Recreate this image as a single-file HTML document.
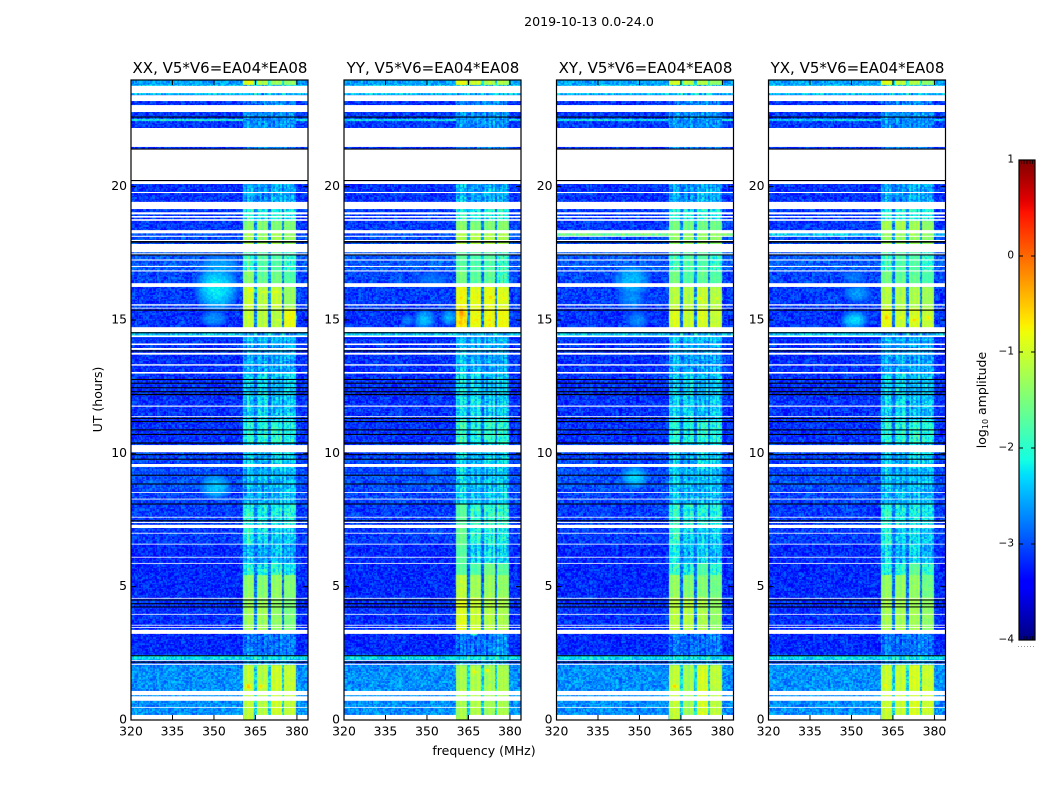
<!DOCTYPE html>
<html lang="en">
<head>
<meta charset="utf-8">
<title>2019-10-13 0.0-24.0</title>
<style>
html,body{margin:0;padding:0;background:#fff;width:1050px;height:800px;overflow:hidden}
#chart-root{position:relative;width:1050px;height:800px;font-family:"DejaVu Sans","Liberation Sans",sans-serif}
canvas{position:absolute;display:block}
svg{position:absolute;left:0;top:0}
text{fill:#000;font-family:"DejaVu Sans","Liberation Sans",sans-serif}
</style>
</head>
<body>
<div id="chart-root">
<canvas id="c0"></canvas>
<canvas id="c1"></canvas>
<canvas id="c2"></canvas>
<canvas id="c3"></canvas>
<svg id="overlay" width="1050" height="800" xmlns="http://www.w3.org/2000/svg">
<defs><linearGradient id="jetGrad" x1="0" y1="1" x2="0" y2="0"></linearGradient></defs>
</svg>
</div>
<script>
// ---- tick labels and titles ----
const panelTitles = ["XX, V5*V6=EA04*EA08","YY, V5*V6=EA04*EA08","XY, V5*V6=EA04*EA08","YX, V5*V6=EA04*EA08"];
const freqTicks = [320,335,350,365,380];
const hourTicks = [0,5,10,15,20];
const colorTicks = [-4,-3,-2,-1,0,1];
// ---- frequency bands (MHz) ----
const bandEdges = [[360.5,364.6],[365.6,369.6],[370.6,374.6],[375.6,379.6]];
// ---- time segments (UT hours, lower edges; last value is the top) ----
const segmentEdges = [0,2.06,2.25,2.44,3.23,4.58,5.44,5.89,6.56,7.2,8.1,8.63,9.38,10.05,10.39,11.25,12.19,13.05,14.06,14.22,14.36,14.55,15.45,16.24,16.84,17.55,18.26,18.71,19.16,20.1,22.2,22.8,23.2,23.44,23.78,24];
// background log10 amplitude for each segment
const backgroundLevels = [-2.68,-3.0,-2.3,-3.2,-3.15,-3.2,-3.2,-3.2,-3.1,-3.1,-3.05,-3.0,-3.05,-3.1,-3.15,-3.15,-3.15,-3.15,-3.15,-3.1,-2.4,-3.15,-3.1,-3.05,-2.95,-3.0,-3.1,-3.1,-3.15,-3.15,-3.1,-3.15,-3.15,-2.4,-2.6];
// band log10 amplitude per polarisation and segment
const bandsXX = [[-1.15,-1.2,-1.05,-1.1],[-2.6,-2.6,-2.6,-2.6],[-2.2,-2.2,-2.2,-2.2],[-2.75,-2.8,-2.8,-2.7],[-1.35,-1.35,-1.4,-1.55],[-1.45,-1.5,-1.4,-1.5],[-2.0,-2.1,-1.9,-2.1],[-2.4,-2.5,-2.3,-2.5],[-2.0,-2.2,-2.3,-2.3],[-2.0,-2.1,-2.1,-2.0],[-2.5,-2.5,-2.4,-2.3],[-2.4,-2.4,-2.4,-2.4],[-2.3,-2.5,-2.2,-2.3],[-2.3,-2.3,-2.3,-2.3],[-2.0,-2.0,-1.9,-2.0],[-2.3,-2.2,-2.4,-2.3],[-2.3,-2.2,-2.4,-2.2],[-2.5,-2.5,-2.5,-2.5],[-2.5,-2.5,-2.5,-2.5],[-2.3,-2.3,-2.3,-2.3],[-2.6,-2.6,-2.6,-2.6],[-1.15,-1.2,-1.2,-0.9],[-1.1,-1.2,-1.1,-1.35],[-1.45,-1.7,-1.6,-1.8],[-1.85,-1.8,-1.8,-1.9],[-1.3,-1.4,-1.3,-1.4],[-1.5,-1.5,-1.5,-1.5],[-2.0,-2.1,-2.0,-2.1],[-2.5,-2.6,-2.4,-2.5],[-2.7,-2.7,-2.7,-2.7],[-2.6,-2.6,-2.6,-2.6],[-2.8,-2.7,-2.6,-2.7],[-2.7,-2.7,-2.6,-2.7],[-2.4,-2.4,-2.4,-2.4],[-0.95,-1.2,-1.35,-1.4]];
const bandsYY = [[-1.3,-1.2,-1.3,-1.3],[-2.6,-2.6,-2.6,-2.6],[-2.2,-2.2,-2.2,-2.2],[-2.8,-2.8,-2.7,-2.6],[-1.0,-1.05,-1.2,-1.3],[-1.2,-1.3,-1.35,-1.45],[-1.8,-1.8,-1.6,-1.8],[-1.8,-2.2,-2.2,-2.3],[-1.7,-1.9,-2.0,-2.1],[-1.8,-1.9,-1.9,-1.9],[-2.3,-2.3,-2.3,-2.3],[-2.2,-2.3,-2.3,-2.3],[-2.2,-2.4,-2.2,-2.3],[-2.2,-2.2,-2.2,-2.2],[-1.9,-2.0,-1.9,-2.0],[-2.2,-2.1,-2.3,-2.3],[-2.2,-2.2,-2.4,-2.3],[-2.4,-2.4,-2.5,-2.5],[-2.4,-2.4,-2.4,-2.4],[-2.3,-2.3,-2.3,-2.3],[-2.5,-2.5,-2.5,-2.5],[-0.75,-0.85,-0.85,-0.9],[-0.9,-0.9,-0.9,-1.0],[-1.6,-1.7,-1.7,-1.9],[-1.8,-1.8,-1.8,-1.9],[-1.3,-1.2,-1.2,-1.3],[-1.5,-1.5,-1.5,-1.5],[-2.0,-2.0,-2.0,-2.0],[-2.4,-2.5,-2.4,-2.5],[-2.7,-2.7,-2.7,-2.7],[-2.6,-2.6,-2.6,-2.6],[-2.7,-2.7,-2.6,-2.7],[-2.7,-2.7,-2.6,-2.7],[-2.4,-2.4,-2.4,-2.4],[-0.9,-1.0,-1.2,-1.3]];
const bandsXY = [[-1.15,-1.3,-1.0,-1.15],[-2.6,-2.6,-2.6,-2.6],[-2.2,-2.2,-2.2,-2.2],[-2.75,-2.8,-2.8,-2.7],[-1.2,-1.2,-1.25,-1.4],[-1.4,-1.5,-1.5,-1.6],[-1.9,-2.0,-1.8,-1.9],[-2.1,-2.4,-2.2,-2.4],[-1.9,-2.2,-2.3,-2.3],[-1.9,-2.0,-2.0,-2.0],[-2.4,-2.4,-2.4,-2.4],[-2.3,-2.4,-2.4,-2.4],[-2.3,-2.5,-2.2,-2.3],[-2.3,-2.3,-2.3,-2.3],[-2.0,-2.0,-1.9,-2.0],[-2.3,-2.2,-2.4,-2.3],[-2.3,-2.2,-2.4,-2.3],[-2.5,-2.5,-2.5,-2.5],[-2.5,-2.5,-2.5,-2.5],[-2.3,-2.3,-2.3,-2.3],[-2.6,-2.6,-2.6,-2.6],[-1.0,-1.1,-1.0,-1.1],[-1.2,-1.2,-1.1,-1.2],[-1.6,-1.8,-1.7,-1.8],[-1.85,-1.8,-1.8,-1.9],[-1.4,-1.4,-1.4,-1.4],[-1.6,-1.6,-1.6,-1.6],[-2.0,-2.1,-2.0,-2.1],[-2.5,-2.6,-2.4,-2.5],[-2.7,-2.7,-2.7,-2.7],[-2.6,-2.6,-2.6,-2.6],[-2.8,-2.7,-2.6,-2.7],[-2.7,-2.7,-2.6,-2.7],[-2.4,-2.4,-2.4,-2.4],[-1.0,-1.2,-1.2,-1.4]];
const bandsYX = [[-1.1,-1.1,-1.0,-1.05],[-2.6,-2.6,-2.6,-2.6],[-2.2,-2.2,-2.2,-2.2],[-2.75,-2.8,-2.8,-2.7],[-1.3,-1.3,-1.3,-1.4],[-1.4,-1.4,-1.4,-1.6],[-2.0,-2.0,-1.7,-1.9],[-2.2,-2.4,-2.2,-2.4],[-2.0,-2.3,-2.2,-2.3],[-2.0,-2.1,-2.1,-2.1],[-2.4,-2.4,-2.4,-2.4],[-2.3,-2.4,-2.4,-2.4],[-2.3,-2.5,-2.2,-2.3],[-2.3,-2.3,-2.3,-2.3],[-2.0,-2.0,-1.9,-2.0],[-2.3,-2.2,-2.4,-2.3],[-2.3,-2.2,-2.4,-2.3],[-2.5,-2.5,-2.5,-2.5],[-2.5,-2.5,-2.5,-2.5],[-2.3,-2.3,-2.3,-2.3],[-2.6,-2.6,-2.6,-2.6],[-0.9,-1.1,-1.0,-1.1],[-1.2,-1.25,-1.25,-1.3],[-1.6,-1.7,-1.7,-1.8],[-1.85,-1.8,-1.8,-1.9],[-1.4,-1.4,-1.4,-1.4],[-1.3,-1.3,-1.3,-1.4],[-2.0,-2.0,-2.0,-2.0],[-2.5,-2.6,-2.4,-2.5],[-2.7,-2.7,-2.7,-2.7],[-2.6,-2.6,-2.6,-2.6],[-2.8,-2.7,-2.6,-2.7],[-2.7,-2.7,-2.6,-2.7],[-2.4,-2.4,-2.4,-2.4],[-0.95,-1.1,-1.25,-1.4]];
// localised emission: [MHz, UT hour, radius MHz, radius hours, peak log10 amplitude]
const emissionXX = [[351,16.2,7,0.8,-2.2],[352,17,9,0.55,-2.55],[350,15.05,6,0.35,-2.65],[350.5,8.75,6,0.5,-2.4],[362.5,1.25,1.5,0.2,-0.45],[367,1.25,1.3,0.2,-0.6],[363,16.1,2,0.06,-0.5],[368,16.05,2.5,0.05,-0.6],[372.5,16.05,2.5,0.05,-0.5],[378,15.1,1.5,0.12,-0.6],[362.5,15.1,1.5,0.12,-0.8],[373.5,15,1.2,0.1,-0.8]];
const emissionYY = [[349,15,4,0.42,-2.45],[358,15.1,3,0.35,-2.5],[343,15,3,0.3,-2.75],[352,16.5,9,0.55,-2.8],[352,9.3,5,0.25,-2.7],[362.5,15.25,1.8,0.4,-0.25],[362,14.9,1.5,0.1,-0.3],[367.5,15,1.8,0.08,-0.55],[372.5,15,1.8,0.08,-0.45],[378,15,1.5,0.08,-0.65],[362.5,15.85,1.8,0.08,-0.5],[367,15.8,1.8,0.08,-0.65],[373,15.85,1.8,0.08,-0.45],[378,15.8,1.5,0.08,-0.6],[362,3.6,1.5,0.25,-0.75],[367,3.4,1.5,0.2,-0.75],[367,1.8,1.3,0.15,-0.6],[372,1.85,1,0.1,-0.6]];
const emissionXY = [[347,16.5,7,0.7,-2.45],[349,15,5,0.45,-2.7],[347,15.8,6,0.55,-2.65],[348,9.1,5,0.45,-2.35],[362.5,1.25,1.5,0.15,-0.55],[362,15.1,1.5,0.05,-0.55],[372,15.1,1.5,0.05,-0.55],[372,15.8,2,0.06,-0.6],[378,15.8,1.5,0.06,-0.7]];
const emissionYX = [[351,15,4.5,0.32,-2.3],[352,16,6,0.4,-2.6],[351,16.6,6,0.35,-2.75],[352,8.6,8,0.3,-2.85],[362.5,15.1,1.5,0.2,-0.45],[367.5,15.1,1.5,0.1,-0.7],[372.5,15,2,0.15,-0.55],[377.5,15.1,1.5,0.15,-0.6],[372,18.3,2,0.1,-0.5],[362,1.3,0.8,0.15,-0.6],[367,1,1,0.1,-0.65]];
// narrow bright background rows: [UT hour, log10 amplitude]
const streaksXX = [[22.5,-2.1]];
const streaksYY = [[22.5,-2.2]];
const streaksXY = [[22.5,-2.2],[18.2,-1.6]];
const streaksYX = [[22.5,-2.3],[18.2,-2.4]];
// flagged (blank) rows, UT hours [low, high]
const flaggedRows = [[23.51,23.78],[23.21,23.43],[22.8,23.06],[21.49,22.2],[20.25,21.41],[20.1,20.21],[19.76,19.8],[19.16,19.43],[18.96,19.04],[18.84,18.9],[18.72,18.78],[18.25,18.37],[18.12,18.16],[17.96,18.0],[17.54,17.85],[17.46,17.5],[17.23,17.27],[16.99,17.03],[16.82,16.86],[16.24,16.38],[15.54,15.59],[15.43,15.46],[14.55,14.73],[14.36,14.42],[14.06,14.12],[13.88,13.95],[13.7,13.77],[13.29,13.34],[12.99,13.05],[11.75,11.79],[11.36,11.39],[10.04,10.31],[9.49,9.6],[8.52,8.55],[8.27,8.3],[7.59,7.62],[7.39,7.43],[7.2,7.32],[6.99,7.02],[6.58,6.61],[6.09,6.12],[5.86,5.89],[4.55,4.58],[3.95,3.98],[3.54,3.57],[3.45,3.48],[3.23,3.38],[2.22,2.25],[2.07,2.11],[0.93,1.09],[0.72,0.89],[0.46,0.49]];
// flagged blocks limited in frequency: [hour low, hour high, MHz low, MHz high]
const flaggedBlocks = [[0.02,0.19,320,360.5],[0.02,0.19,365,384]];
// zero-amplitude (black) rows, UT hours [low, high]
const zeroRows = [[22.59,22.63],[21.39,21.43],[20.21,20.25],[17.9,17.96],[17.42,17.46],[15.35,15.39],[14.5,14.54],[13.82,13.86],[12.75,12.79],[12.61,12.65],[12.44,12.48],[12.29,12.33],[12.18,12.23],[11.29,11.33],[11.17,11.21],[10.86,10.9],[10.69,10.73],[10.36,10.41],[9.93,9.97],[9.76,9.8],[9.16,9.2],[8.83,8.87],[8.08,8.12],[7.45,7.49],[4.48,4.52],[4.34,4.38],[4.22,4.26],[2.39,2.43],[2.15,2.19]];
// fine-grain channel scatter (read as typical speckle in the noise)
const speckle = [0.3,-0.6,0.9,-0.2,0.1,-0.9,0.5,0.7,-0.4,-0.1,0.8,-0.7,0.2,-0.3,1,-0.5,0,0.4,-0.8,0.6,-0.2,0.9,-0.6,0.1,0.3,-1,0.7,-0.3,0.5,-0.1,0.2,-0.7,0.8,-0.5,0.4,0,-0.9,0.6,0.1,-0.4,1,-0.2,0.3,-0.8,0.5,-0.6,0.7,0,-0.3,0.9,-0.1,-0.7,0.4,0.2,-0.5,0.8,-0.9,0.1,0.6,-0.2,0.3,-0.4,0.7,-1,0.5,0,0.9,-0.6,-0.1,0.2,-0.3,0.8,-0.7,0.4,0.1,-0.5,1,-0.2,0.6,-0.8,0.3,0,-0.4,0.7,-0.9,0.5,-0.1,0.2,-0.6,0.9,-0.3,0.4,-0.7,0.1,0.8,-0.5,0,0.6,-0.2,-0.8,0.3];
const bandChannelShape = [0.22,0.1,-0.05,0.16,-0.12,0.05,0.2,-0.18,0.08,0.14,-0.08,-0.2];
// overall calibration: faint bands sit lower, bright bands slightly higher
const faintBandShift = -0.1;
const brightBandShift = 0.03;

const panelBands = [bandsXX,bandsYY,bandsXY,bandsYX];
const panelEmission = [emissionXX,emissionYY,emissionXY,emissionYX];
const panelStreaks = [streaksXX,streaksYY,streaksXY,streaksYX];
const panelKeys = ["xx","yy","xy","yx"];

// ---- layout ----
const axesLeft = [131,344,556.5,768.5];
const axesWidth = 177, axesTop = 80, axesHeight = 640;
const freqMin = 320, freqMax = 384, hourMin = 0, hourMax = 24;
const freqStep = 0.5, hourStep = 0.05;
function xScale(p, mhz){ return axesLeft[p] + (mhz-freqMin)/(freqMax-freqMin)*axesWidth; }
function yScale(h){ return axesTop + axesHeight - (h-hourMin)/(hourMax-hourMin)*axesHeight; }

function lerpStops(stops,t){
  for(let i=1;i<stops.length;i++){
    if(t<=stops[i][0]){const a=stops[i-1],b=stops[i];return a[1]+(b[1]-a[1])*(t-a[0])/(b[0]-a[0]);}
  }
  return stops[stops.length-1][1];
}
const jetR=[[0,0],[0.35,0],[0.66,1],[0.89,1],[1,0.5]];
const jetG=[[0,0],[0.125,0],[0.375,1],[0.64,1],[0.91,0],[1,0]];
const jetB=[[0,0.5],[0.11,1],[0.34,1],[0.65,0],[1,0]];
function jet(t){
  t=Math.max(0,Math.min(1,t));
  return "rgb("+Math.round(255*lerpStops(jetR,t))+","+Math.round(255*lerpStops(jetG,t))+","+Math.round(255*lerpStops(jetB,t))+")";
}
const lut=[];
for(let i=0;i<256;i++){lut.push(jet(i/255));}
function colorOf(v){ return lut[Math.max(0,Math.min(255,Math.round((v+4)/5*255)))]; }

function segmentIndex(h){
  for(let i=0;i<segmentEdges.length-1;i++){ if(h<segmentEdges[i+1]) return i; }
  return segmentEdges.length-2;
}

function levelAt(p,seg,f,h,row,col){
  const bg=backgroundLevels[seg];
  let v=bg, amp=0.36;
  let inRange=f>=bandEdges[0][0]&&f<=bandEdges[3][1];
  if(inRange){
    v=bg+0.35;
    for(let b=0;b<4;b++){
      if(f>=bandEdges[b][0]&&f<=bandEdges[b][1]){
        v=panelBands[p][seg][b];
        const shape=bandChannelShape[col%bandChannelShape.length];
        if(v<-1.8){
          v+=faintBandShift+shape;
          amp=0.38;
        } else {
          v+=brightBandShift+shape*0.6;
          amp=0.12;
        }
      }
    }
  } else {
    const st=panelStreaks[p];
    for(let i=0;i<st.length;i++){ if(Math.abs(h-st[i][0])<0.04) v=st[i][1]; }
  }
  const em=panelEmission[p];
  for(let i=0;i<em.length;i++){
    const e=em[i];
    const dx=(f-e[0])/e[2], dy=(h-e[1])/e[3];
    const d2=dx*dx+dy*dy;
    if(d2<3){
      const broad=e[4]<-1.9;
      const lv=e[4]-(broad?0.6:1.2)*d2;
      if(lv>v && (broad || f>=bandEdges[0][0])){
        v=lv;
        amp=broad?0.14:0.09;
      }
    }
  }
  const idx=(row*row*3+col*17+row*col+p*29)%speckle.length;
  return v+speckle[idx]*amp;
}

function drawHeatmap(p){
  const cv=document.getElementById("c"+p);
  cv.width=axesWidth; cv.height=axesHeight;
  cv.style.left=axesLeft[p]+"px"; cv.style.top=axesTop+"px";
  const ctx=cv.getContext("2d");
  const rows=Math.round((hourMax-hourMin)/hourStep), cols=Math.round((freqMax-freqMin)/freqStep);
  for(let r=0;r<rows;r++){
    const h=hourMin+(r+0.5)*hourStep;
    const hi=hourMin+(r+1)*hourStep, lo=hourMin+r*hourStep;
    const seg=segmentIndex(h);
    const y0=Math.round(yScale(hi))-axesTop, y1=Math.round(yScale(lo))-axesTop;
    for(let c=0;c<cols;c++){
      const f=freqMin+(c+0.5)*freqStep;
      const x0=Math.round(xScale(p,freqMin+c*freqStep)-axesLeft[p]), x1=Math.round(xScale(p,freqMin+(c+1)*freqStep)-axesLeft[p]);
      ctx.fillStyle=colorOf(levelAt(p,seg,f,h,r,c));
      ctx.fillRect(x0,y0,x1-x0,y1-y0);
    }
  }
}

const svgNS="http://www.w3.org/2000/svg";
const overlay=document.getElementById("overlay");
function addRect(x,y,w,h,fill,name){
  const el=document.createElementNS(svgNS,"rect");
  el.setAttribute("x",x);el.setAttribute("y",y);el.setAttribute("width",w);el.setAttribute("height",h);
  el.setAttribute("fill",fill);
  
  
  overlay.appendChild(el);
  return el;
}
function addLine(x1,y1,x2,y2,stroke,sw,name){
  const el=document.createElementNS(svgNS,"line");
  el.setAttribute("x1",x1);el.setAttribute("y1",y1);el.setAttribute("x2",x2);el.setAttribute("y2",y2);
  el.setAttribute("stroke",stroke);el.setAttribute("stroke-width",sw);
  
  
  overlay.appendChild(el);
  return el;
}
function addText(x,y,txt,size,anchor,name,rot){
  const el=document.createElementNS(svgNS,"text");
  el.setAttribute("x",x);el.setAttribute("y",y);el.setAttribute("font-size",size);el.setAttribute("text-anchor",anchor);
  if(rot){el.setAttribute("transform","rotate(-90 "+x+" "+y+")");}
  el.textContent=txt;
  
  
  overlay.appendChild(el);
  return el;
}

function drawPanel(p){
  drawHeatmap(p);
  const key=panelKeys[p], L=axesLeft[p], R=L+axesWidth, T=axesTop, B=axesTop+axesHeight;
  flaggedRows.forEach(function(fr){
    addRect(L,yScale(fr[1]),axesWidth,yScale(fr[0])-yScale(fr[1]),"#fff",key+"-flagged-row");
  });
  flaggedBlocks.forEach(function(fb){
    addRect(xScale(p,fb[2]),yScale(fb[1]),xScale(p,fb[3])-xScale(p,fb[2]),yScale(fb[0])-yScale(fb[1]),"#fff",key+"-flagged-block");
  });
  zeroRows.forEach(function(zr){
    addRect(L,yScale(zr[1]),axesWidth,Math.max(1,yScale(zr[0])-yScale(zr[1])),"#000",key+"-zero-row");
  });
  freqTicks.forEach(function(f){
    const x=xScale(p,f);
    addLine(x,B,x,B-5,"#000",1,key+"-x-tick-bottom");
    addLine(x,T,x,T+5,"#000",1,key+"-x-tick-top");
    addText(x,735.5,String(f),12.4,"middle",key+"-x-tick-label");
  });
  hourTicks.forEach(function(h){
    const y=yScale(h);
    addLine(L,y,L+5,y,"#000",1,key+"-y-tick-left");
    addLine(R,y,R-5,y,"#000",1,key+"-y-tick-right");
    addText(L-4,y+3.5,String(h),12.4,"end",key+"-y-tick-label");
  });
  const frame=addRect(L,T,axesWidth,axesHeight,"none",key+"-axes-frame");
  frame.setAttribute("stroke","#000");
  frame.setAttribute("stroke-width","1.2");
  addText(L+axesWidth/2+0.5,73,panelTitles[p],15,"middle",key+"-panel-title");
}
[0,1,2,3].forEach(drawPanel);

// ---- figure labels ----
addText(589,26,"2019-10-13 0.0-24.0",12.6,"middle","figure-title");
addText(484,755,"frequency (MHz)",12.5,"middle","x-axis-title");
addText(102,399.5,"UT (hours)",12.5,"middle","y-axis-title",true);

// ---- colour bar ----
const cbLeft=1019, cbTop=160, cbWidth=16, cbHeight=480, cbMin=-4, cbMax=1;
function cbY(v){ return cbTop+cbHeight-(v-cbMin)/(cbMax-cbMin)*cbHeight; }
const grad=document.getElementById("jetGrad");
for(let i=0;i<=64;i++){
  const s=document.createElementNS(svgNS,"stop");
  s.setAttribute("offset",(i/64));
  s.setAttribute("stop-color",jet(i/64));
  grad.appendChild(s);
}
const cbRect=addRect(cbLeft,cbTop,cbWidth,cbHeight,"url(#jetGrad)","colorbar");
cbRect.setAttribute("stroke","#000");
cbRect.setAttribute("stroke-width","1.2");
colorTicks.forEach(function(v){
  const y=cbY(v);
  if(v!==cbMin&&v!==cbMax){
    addLine(cbLeft,y,cbLeft+4,y,"#000",1,"colorbar-tick-left");
    addLine(cbLeft+cbWidth,y,cbLeft+cbWidth-4,y,"#000",1,"colorbar-tick-right");
  }
  addText(cbLeft-5,y+2.5,(v<0?"\u2212":"")+Math.abs(v),10.5,"end","colorbar-tick-label");
});
[2.5,5,8,11,13.5].forEach(function(dx){
  addLine(cbLeft+dx,cbTop,cbLeft+dx,cbTop+4,"#000",0.8,"colorbar-minor-tick-top");
  addLine(cbLeft+dx,cbTop+cbHeight,cbLeft+dx,cbTop+cbHeight-4,"#000",0.8,"colorbar-minor-tick-bottom");
});
const dots=addLine(1018,646.5,1035,646.5,"#999",1,"colorbar-offset-dots");
dots.setAttribute("stroke-dasharray","1 2");
const cbTitle=addText(986,400,"log",12.5,"middle","colorbar-title",true);
const sub=document.createElementNS(svgNS,"tspan");
sub.setAttribute("font-size","8");
sub.setAttribute("dy","2");
sub.textContent="10";


cbTitle.appendChild(sub);
const rest=document.createElementNS(svgNS,"tspan");
rest.setAttribute("dy","-2");
rest.textContent=" amplitude";


cbTitle.appendChild(rest);
</script>
</body>
</html>
